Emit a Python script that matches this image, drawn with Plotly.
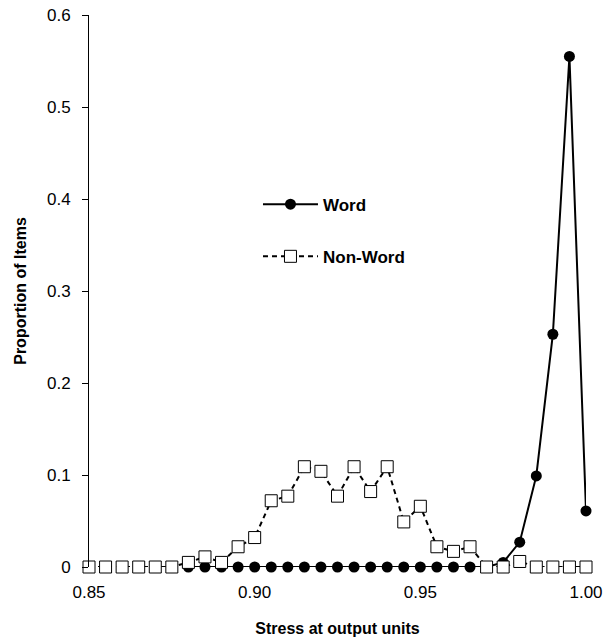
import plotly.graph_objects as go

x_all = [round(0.85 + 0.005 * i, 3) for i in range(31)]

nonword_y = [0, 0, 0, 0, 0, 0, 0.005, 0.011, 0.005, 0.022, 0.032, 0.072, 0.077, 0.109, 0.104, 0.077,
             0.109, 0.082, 0.109, 0.049, 0.066, 0.022, 0.017, 0.022, 0, 0, 0.006, 0, 0, 0, 0]

word_x = x_all[6:]
word_y = [0, 0, 0, 0, 0, 0, 0, 0, 0, 0, 0, 0, 0, 0, 0, 0, 0, 0, 0,
          0.005, 0.027, 0.099, 0.253, 0.555, 0.061]

x_ticks = [0.85, 0.9, 0.95, 1.0]
x_labels = ["0.85", "0.90", "0.95", "1.00"]
y_ticks = [0, 0.1, 0.2, 0.3, 0.4, 0.5, 0.6]
y_labels = ["0", "0.1", "0.2", "0.3", "0.4", "0.5", "0.6"]

font = "Liberation Sans, Arial, sans-serif"

fig = go.Figure()
fig.add_trace(go.Scatter(
    x=word_x, y=word_y, name="Word", mode="lines+markers",
    line=dict(color="black", width=2),
    marker=dict(symbol="circle", size=11, color="black"),
    cliponaxis=False, legendgroup="a",
))
fig.add_trace(go.Scatter(
    x=x_all, y=nonword_y, name="Non-Word", mode="lines+markers",
    line=dict(color="black", width=2, dash="5px,4px"),
    marker=dict(symbol="square", size=12, color="white", line=dict(color="black", width=1)),
    cliponaxis=False, legendgroup="b",
))

fig.update_layout(
    width=604, height=640,
    margin=dict(l=89, r=18, t=15, b=73),
    plot_bgcolor="white", paper_bgcolor="white",
    font=dict(family=font, color="black", size=17),
    legend=dict(x=0.34, y=0.689, xanchor="left", yanchor="top",
                bgcolor="rgba(0,0,0,0)", itemwidth=55, tracegroupgap=27,
                font=dict(size=17, family=font, weight="bold")),
    xaxis=dict(range=[0.85, 1.0], tickvals=x_ticks, ticktext=x_labels,
               showgrid=False, zeroline=False, showline=False, ticks="",
               ticklabelstandoff=13, automargin=False, ticklabeloverflow="allow",
               title=dict(text="<b>Stress at output units</b>", font=dict(size=16), standoff=21),
               tickfont=dict(size=17)),
    yaxis=dict(range=[0, 0.6], tickvals=y_ticks, ticktext=y_labels,
               showgrid=False, zeroline=False, showline=True, linecolor="black", linewidth=1,
               ticks="outside", ticklen=6, tickcolor="black", ticklabelstandoff=8,
               automargin=False, ticklabeloverflow="allow",
               title=dict(text="<b>Proportion of Items</b>", font=dict(size=16), standoff=16),
               tickfont=dict(size=17)),
)

fig.write_html("out.html", config={"displayModeBar": False},
               post_script="document.body.style.margin='0';")
